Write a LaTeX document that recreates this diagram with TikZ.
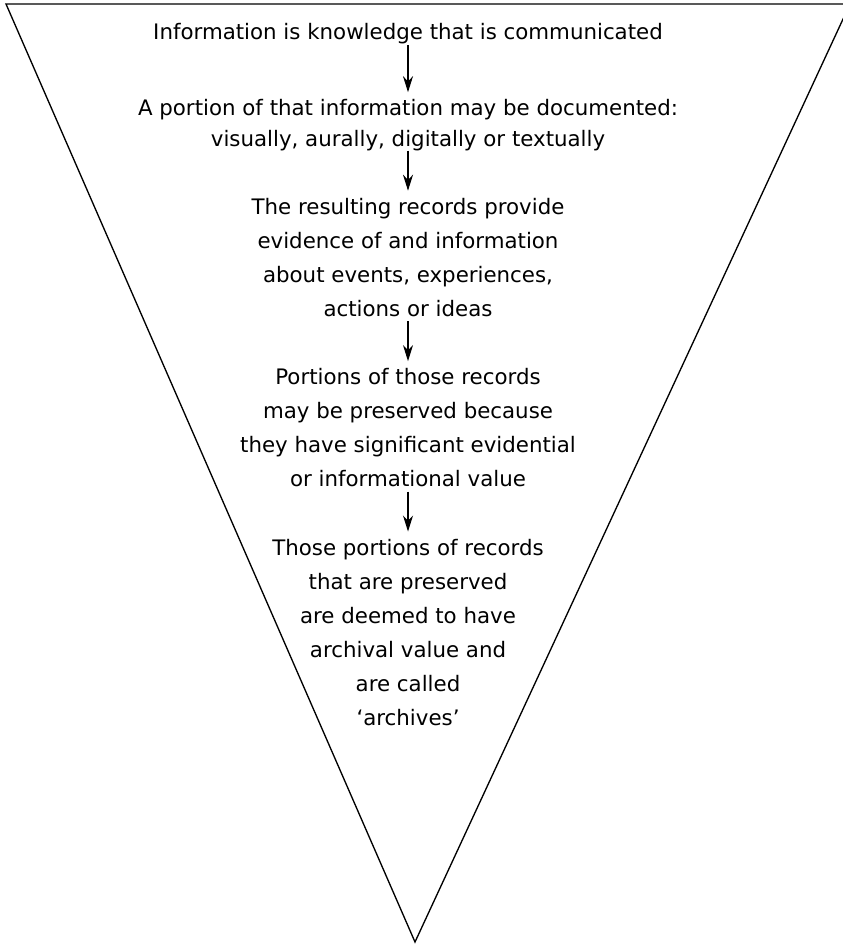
\documentclass[tikz,border=0pt]{standalone}
\usepackage{fontspec}
\setsansfont{DejaVu Sans}
\usetikzlibrary{positioning,arrows.meta}

\begin{document}
\begin{tikzpicture}[x=0.75pt, y=-0.75pt, node distance={30.5pt}, line width=1pt,
    main/.style = {align=center, inner sep=0pt, font=\sffamily\fontsize{16}{25.5}\selectfont,
        execute at begin node=\strut, execute at end node=\strut},
    arr/.style = {-{Stealth[length=12pt,width=7.5pt]}, line width=0.8pt, shorten <=-4.5pt, shorten >=5pt}]
    \useasboundingbox (0,0) rectangle (842,944);
    \draw (6,4) -- (850,4) -- (415,942) -- cycle;
    \node[main, anchor=base] (1) at (408,40) {Information is knowledge that is communicated};
    \node[main, font=\sffamily\fontsize{16}{23.25}\selectfont] (2) [below=36pt of 1] {A portion of that information may be documented:\\visually, aurally, digitally or textually};
    \node[main] (3) [below=of 2] {The resulting records provide\\evidence of and information\\about events, experiences,\\actions or ideas};
    \node[main] (4) [below=of 3] {Portions of those records\\may be preserved because\\they have significant evidential\\or informational value};
    \node[main] (5) [below=of 4] {Those portions of records\\that are preserved\\are deemed to have\\archival value and\\are called\\`archives'};
    \draw[arr] (1)--(2);
    \draw[arr] (2)--(3);
    \draw[arr] (3)--(4);
    \draw[arr] (4)--(5);
\end{tikzpicture}
\end{document}
